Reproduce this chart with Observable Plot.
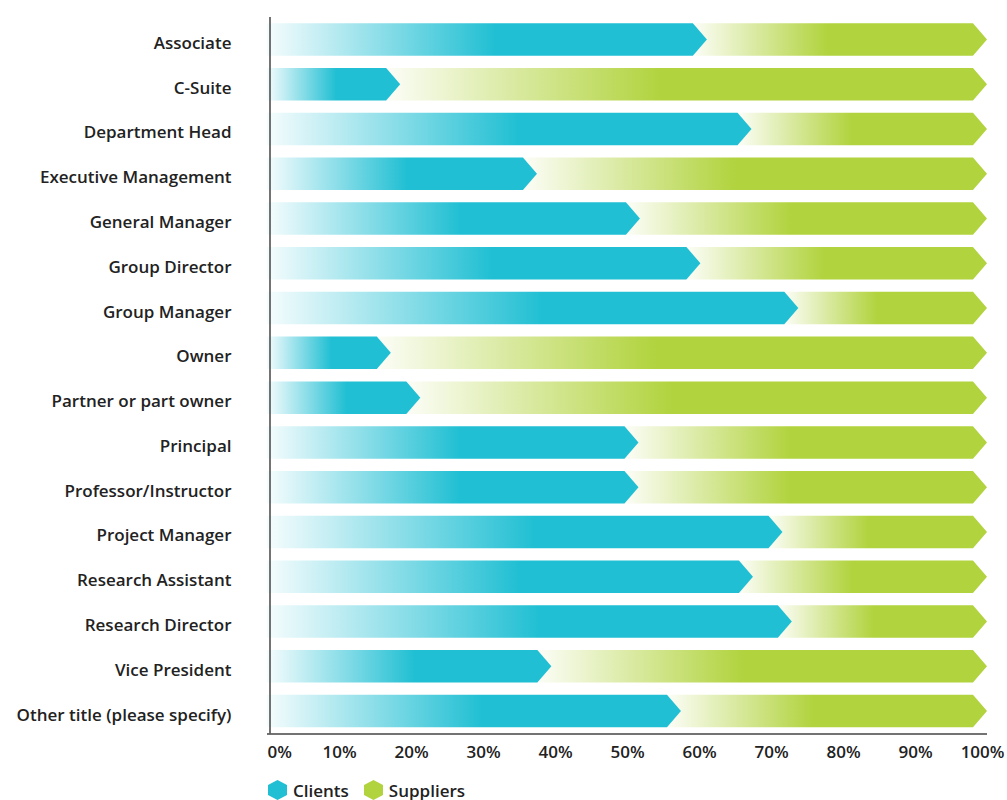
<!DOCTYPE html>
<html><head><meta charset="utf-8">
<script src="https://cdn.jsdelivr.net/npm/d3@7"></script>
<script src="https://cdn.jsdelivr.net/npm/@observablehq/plot@0.6"></script>
<style>
body{margin:0;background:#fff;font-family:"Open Sans",sans-serif;}
#legend{display:flex;align-items:center;margin-left:268px;height:20px;margin-top:10px;font-size:17px;font-weight:600;color:#222}
.item{display:flex;align-items:center;margin-right:15px}
.item svg{margin-right:6px}
</style></head><body><div id="chart"></div><div id="legend"></div>
<script>
const titles = ["Associate","C-Suite","Department Head","Executive Management","General Manager","Group Director","Group Manager","Owner","Partner or part owner","Principal","Professor/Instructor","Project Manager","Research Assistant","Research Director","Vice President","Other title (please specify)"];
const clients = [61.1, 18.5, 67.3, 37.5, 51.8, 60.2, 73.8, 17.2, 21.3, 51.6, 51.6, 71.6, 67.5, 72.9, 39.5, 57.5];
const suppliers = [38.9, 81.5, 32.7, 62.5, 48.2, 39.8, 26.2, 82.8, 78.7, 48.4, 48.4, 28.4, 32.5, 27.1, 60.5, 42.5];
const seriesNames = ["Clients", "Suppliers"];
const seriesColors = ["#20bfd3", "#b1d33d"];
const xTicks = [0, 10, 20, 30, 40, 50, 60, 70, 80, 90, 100];

const TIP = 1.95;   // arrow depth in x units
const HALF = 0.363; // half bar thickness in row units
const gradFull = [0.52, 0.46];

const shapes = [];
titles.forEach((t, i) => {
  const c = clients[i], end = clients[i] + suppliers[i];
  shapes.push(
    {key: "c" + i, s: 0, y: i - HALF, x1: 0, x2: c - TIP},
    {key: "c" + i, s: 0, y: i, x1: 0, x2: c},
    {key: "c" + i, s: 0, y: i + HALF, x1: 0, x2: c - TIP},
    {key: "s" + i, s: 1, y: i - HALF, x1: c - TIP, x2: end - TIP},
    {key: "s" + i, s: 1, y: i, x1: c, x2: end},
    {key: "s" + i, s: 1, y: i + HALF, x1: c - TIP, x2: end - TIP}
  );
});

const defs = () => {
  const d = d3.create("svg:defs");
  seriesNames.forEach((n, k) => {
    const g = d.append("linearGradient").attr("id", "grad" + k)
      .attr("x1", 0).attr("x2", 1).attr("y1", 0).attr("y2", 0);
    g.append("stop").attr("offset", 0).attr("stop-color", seriesColors[k]).attr("stop-opacity", 0.04);
    g.append("stop").attr("offset", gradFull[k]).attr("stop-color", seriesColors[k]).attr("stop-opacity", 1);
    g.append("stop").attr("offset", 1).attr("stop-color", seriesColors[k]).attr("stop-opacity", 1);
  });
  return d.node();
};

const font = {fontSize: 17, fontWeight: 600, fill: "#222"};
const xAxisOpts = {tickFormat: d => d + "%", tickSize: 0, tickPadding: 12, label: null, anchor: "bottom", ...font};

const chart = Plot.plot({
  width: 1007,
  height: 770,
  marginLeft: 267,
  marginRight: 20,
  marginTop: 17,
  marginBottom: 36.5,
  style: {fontFamily: '"Open Sans", sans-serif', background: "#fff"},
  x: {domain: [0, 100]},
  y: {domain: [-0.5, titles.length - 0.5], reverse: true},
  marks: [
    defs,
    Plot.areaX(shapes.filter(d => d.s === 0), {y: "y", x1: "x1", x2: "x2", z: "key", fill: "url(#grad0)", curve: "linear"}),
    Plot.areaX(shapes.filter(d => d.s === 1), {y: "y", x1: "x1", x2: "x2", z: "key", fill: "url(#grad1)", curve: "linear"}),
    Plot.ruleX([0], {stroke: "#444", strokeWidth: 1.5, dx: 2.5}),
    Plot.ruleY([titles.length - 0.5], {stroke: "#444", strokeWidth: 1.5}),
    Plot.axisY({ticks: d3.range(titles.length), tickFormat: i => titles[i], tickSize: 0, tickPadding: 36, label: null, dy: 3.5, ...font}),
    Plot.axisX({ticks: xTicks.slice(1, -1), ...xAxisOpts}),
    Plot.axisX({ticks: xTicks.slice(0, 1), ...xAxisOpts, textAnchor: "start"}),
    Plot.axisX({ticks: xTicks.slice(-1), ...xAxisOpts, textAnchor: "end", dx: 17})
  ]
});
document.getElementById("chart").appendChild(chart);

const legend = d3.select("#legend");
seriesNames.forEach((n, k) => {
  const item = legend.append("div").attr("class", "item");
  const s = item.append("svg").attr("width", 19).attr("height", 20);
  s.append("polygon").attr("points", "9.5,0 19,5 19,15 9.5,20 0,15 0,5").attr("fill", seriesColors[k]);
  item.append("span").text(n);
});
</script>
</body></html>
